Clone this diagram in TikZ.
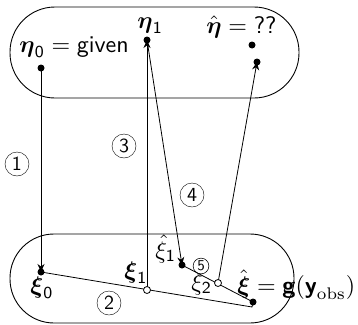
\documentclass[tikz,border=0pt]{standalone}
\usepackage{amsmath}
\usetikzlibrary{arrows.meta}
\tikzset{
  lbl/.style={anchor=base west,inner sep=0pt,scale=2.4},
  arr/.style={-{Stealth[length=8pt,width=7pt]}},
  num/.style={draw,circle,line width=0.4pt,inner sep=0pt,minimum size=12pt,font=\sffamily,scale=2.0},
  numsmall/.style={draw,circle,line width=0.55pt,inner sep=0pt,minimum size=10.5pt,font=\sffamily,scale=1.5},
  fdot/.style={fill=black,draw=none},
  odot/.style={fill=white,draw=black,line width=0.8pt},
  ln/.style={line width=0.8pt},
  box/.style={draw,line width=0.9pt}
}
\begin{document}
\begin{tikzpicture}[x=1pt,y=-1pt]
\useasboundingbox (0,0) rectangle (358,324);
% regions
\draw[box,rounded corners=45pt] (10,7) rectangle (299,98);
\draw[box,rounded corners=44pt] (10,234) rectangle (294,323);
% points
\coordinate (e0) at (41,68);
\coordinate (e1) at (147,40);
\coordinate (eh) at (252,45);
\coordinate (eh2) at (257,62);
\coordinate (x0) at (41,272);
\coordinate (x1) at (147,290);
\coordinate (xh1) at (182,265);
\coordinate (x2) at (218,283);
\coordinate (xh) at (253,302);
\coordinate (xc) at (252,307);
% connectors
\draw[ln,arr] (e0) -- (x0);
\draw[ln] (x0) -- (xc) -- (xh);
\draw[ln,arr] (x1) -- (e1);
\draw[ln,arr] (e1) -- (xh1);
\draw[ln] (xh1) -- (xh);
\draw[ln,arr] (x2) -- (eh2);
% dots
\fill[fdot] (e0) circle (3.5);
\fill[fdot] (e1) circle (3.5);
\fill[fdot] (eh) circle (3.5);
\fill[fdot] (eh2) circle (3.5);
\fill[fdot] (x0) circle (3.5);
\fill[fdot] (xh1) circle (3.5);
\fill[fdot] (xh) circle (3.5);
\draw[odot] (x1) circle (3.5);
\draw[odot] (x2) circle (3.5);
% labels
\node[lbl] (le0) at (19,52) {$\boldsymbol{\eta}_{\mathsf{0}} = \text{\sffamily given}$};
\node[lbl] (le1) at (137,28) {$\boldsymbol{\eta}_{\mathsf{1}}$};
\node[lbl] (leh) at (206,33) {$\hat{\boldsymbol{\eta}} = \text{\sffamily ??}$};
\node[lbl] (lx0) at (30,293) {$\boldsymbol{\xi}_{\mathsf{0}}$};
\node[lbl] (lx1) at (124,278) {$\boldsymbol{\xi}_{\mathsf{1}}$};
\node[lbl] (lxh1) at (155,258) {$\hat{\xi}_{\mathsf{1}}$};
\node[lbl] (lx2) at (191,290) {$\xi_{\mathsf{2}}$};
\node[lbl] (lxh) at (237,293) {$\hat{\boldsymbol{\xi}} = \text{\sffamily\bfseries g}(\text{\sffamily\bfseries y}_{\mathrm{obs}})$};
% step numbers
\node[num] (n1) at (17,164) {1};
\node[num] (n2) at (109,303) {2};
\node[num] (n3) at (124,146) {3};
\node[num] (n4) at (192,195) {4};
\node[numsmall] (n5) at (201,266) {5};
\end{tikzpicture}
\end{document}
